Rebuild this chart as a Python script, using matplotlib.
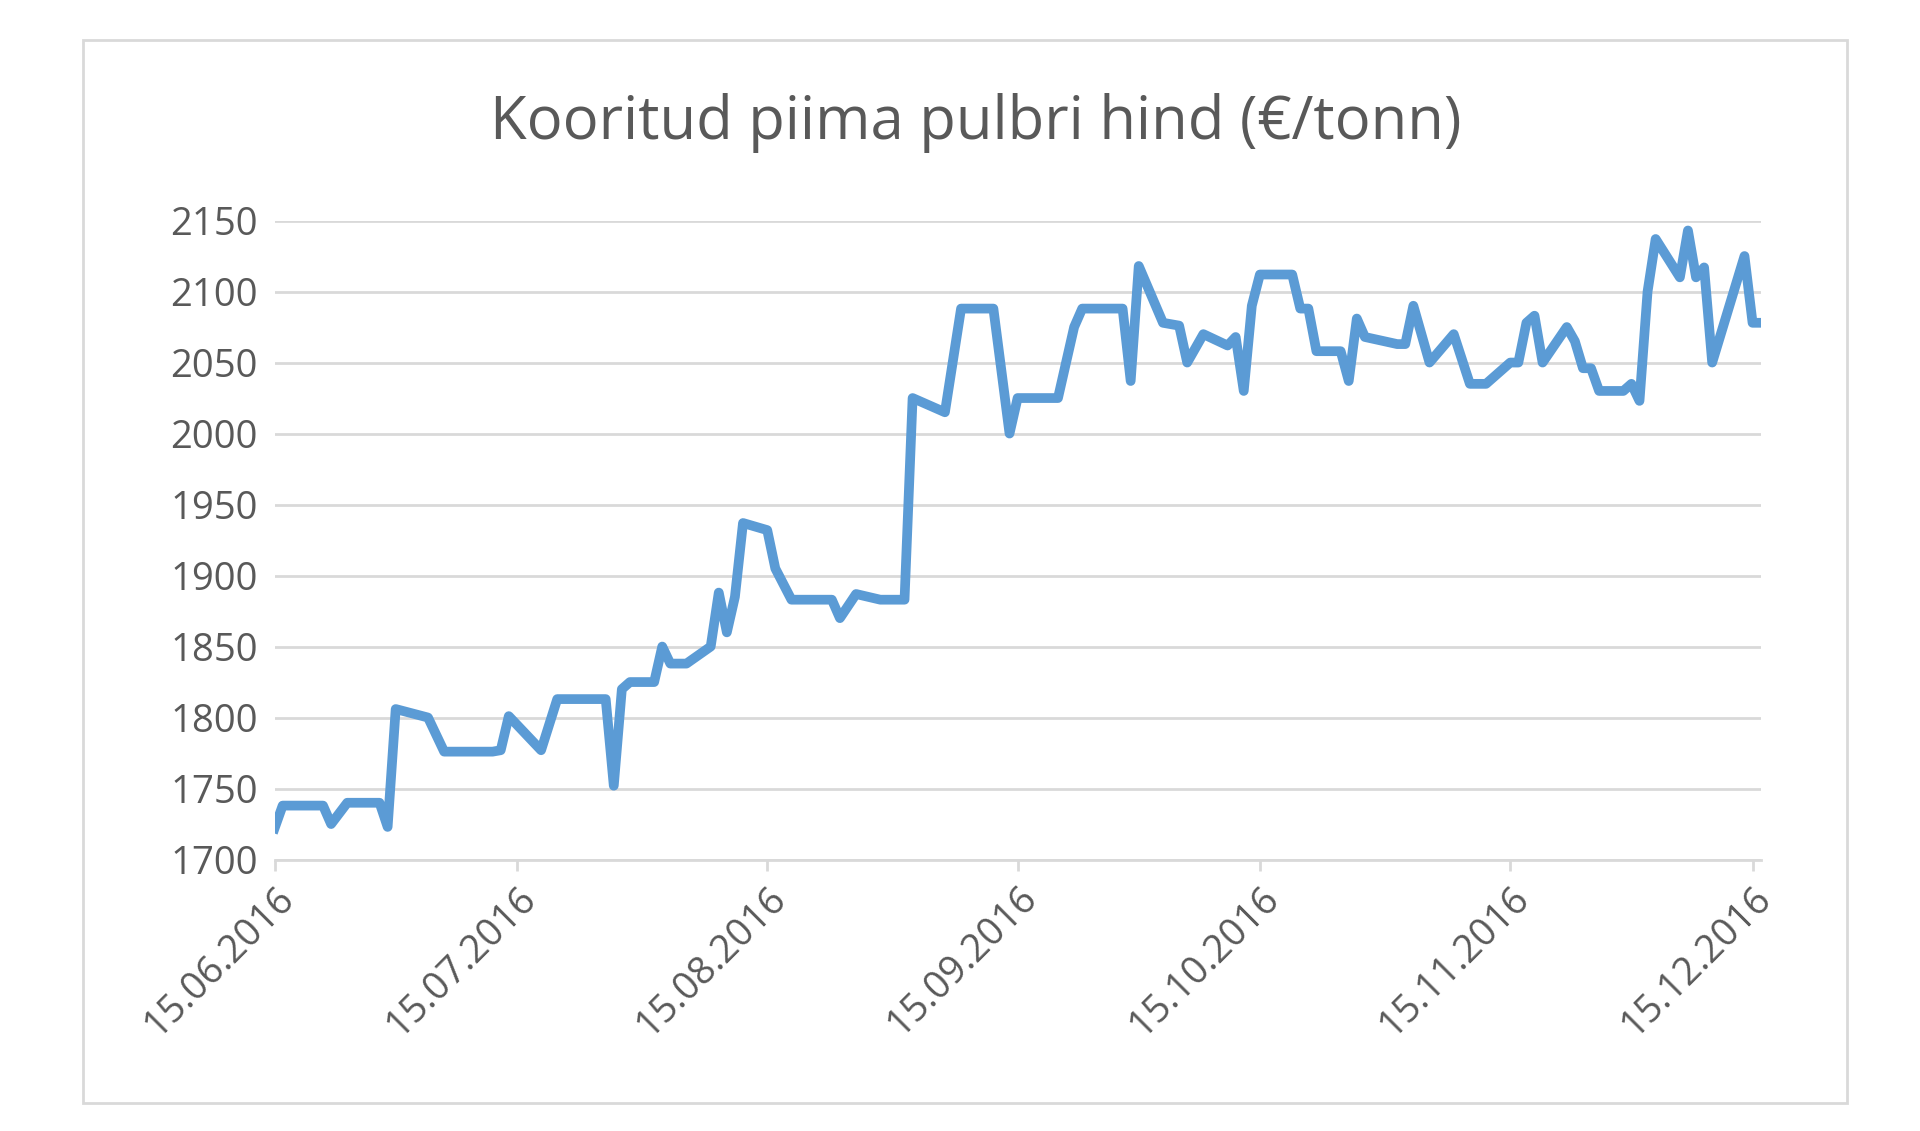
import matplotlib
matplotlib.use("Agg")
import matplotlib.pyplot as plt
from matplotlib.patches import Rectangle
import datetime as dt

day_offsets = [0,1,6,7,9,13,14,15,19,21,27,28,29,33,35,41,42,43,44,47,48,49,51,54,55,56,57,58,61,62,64,69,70,72,75,78,79,83,85,89,91,92,97,99,100,105,106,107,110,112,113,115,118,119,120,121,122,126,127,128,129,132,133,134,135,139,140,141,143,146,148,150,153,154,155,156,157,160,161,162,163,164,167,168,169,170,171,174,175,176,177,178,182,183,184]
prices = [1722,1738,1738,1725,1740,1740,1723,1806,1800,1776,1776,1777,1801,1777,1813,1813,1752,1820,1825,1825,1850,1838,1838,1850,1888,1860,1885,1937,1932,1905,1883,1883,1870,1887,1883,1883,2025,2015,2088,2088,2000,2025,2025,2075,2088,2088,2037,2118,2078,2076,2050,2070,2062,2068,2030,2090,2112,2112,2088,2088,2058,2058,2037,2081,2068,2063,2063,2090,2050,2070,2035,2035,2050,2050,2078,2083,2050,2075,2065,2046,2046,2030,2030,2035,2023,2100,2137,2110,2143,2110,2117,2050,2125,2078,2078]
tick_labels = ["15.06.2016","15.07.2016","15.08.2016","15.09.2016","15.10.2016","15.11.2016","15.12.2016"]
title = "Kooritud piima pulbri hind (€/tonn)"

start = dt.date(2016,6,15)
dates = [start + dt.timedelta(days=d) for d in day_offsets]
tick_dates = [dt.datetime.strptime(t, "%d.%m.%Y").date() for t in tick_labels]

plt.rcParams['font.family'] = ['Open Sans', 'DejaVu Sans']
fig = plt.figure(figsize=(19.2, 11.31), dpi=100)
fig.patches.append(Rectangle((0.043, 0.025), 0.919, 0.94, transform=fig.transFigure,
                             fill=False, edgecolor='#D9D9D9', linewidth=2))
ax = fig.add_axes([0.143, 0.24, 0.774, 0.565])
ax.plot(dates, prices, color='#5B9BD5', linewidth=7, solid_joinstyle='round')
ax.set_ylim(1700, 2150)
ax.set_yticks(range(1700, 2151, 50))
ax.set_xlim(start, dt.date(2016,12,16))
ax.set_xticks(tick_dates)
ax.set_xticklabels(tick_labels, rotation=45, ha='right', rotation_mode='anchor')
ax.grid(axis='y', color='#D9D9D9', linewidth=2)
ax.set_axisbelow(True)
for s in ['top','right','left']:
    ax.spines[s].set_visible(False)
ax.spines['bottom'].set_color('#D9D9D9')
ax.spines['bottom'].set_linewidth(2)
ax.tick_params(axis='y', length=0, labelsize=27.5, labelcolor='#595959', pad=12)
ax.tick_params(axis='x', length=8, width=2, color='#D9D9D9', labelsize=27.5, labelcolor='#595959', pad=6)
fig.text(0.508, 0.891, title, ha='center', va='center', fontsize=43, color='#595959')
fig.savefig("out.png", dpi=100)
